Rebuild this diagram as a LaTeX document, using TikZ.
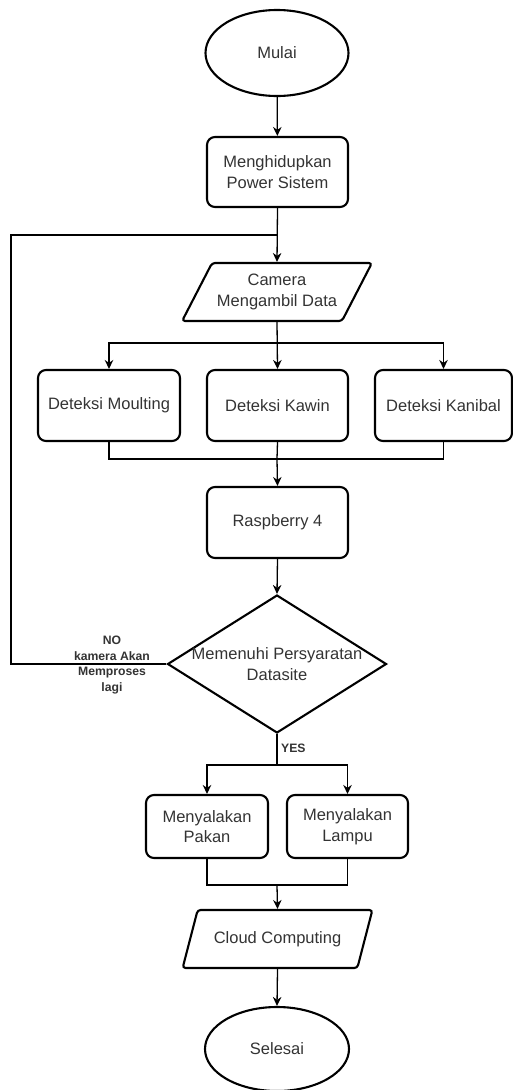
\documentclass[tikz,border=0pt]{standalone}
\usepackage{fontspec}
\setmainfont{Liberation Sans}
\usetikzlibrary{shapes.geometric,arrows.meta,calc}
\definecolor{txt}{HTML}{333333}
\tikzset{
  base/.style={draw=black, line width=2.1pt, text=txt, align=center, inner sep=0pt,
    font=\fontsize{16.5}{20.5}\selectfont},
  proc/.style={base, rectangle, rounded corners=8pt},
  term/.style={base, ellipse, minimum width=143pt, minimum height=86pt},
  io/.style={base, trapezium, trapezium left angle=52, trapezium right angle=128,
    trapezium stretches=true, rounded corners=3pt, minimum width=190pt, minimum height=58pt},
  decision/.style={base, diamond, minimum width=219pt, minimum height=138pt},
  conn/.style={draw=black, line width=1.3pt},
  arr/.style={conn, -{Stealth[length=9pt,width=8.5pt]}},
  lbl/.style={text=txt, align=center, inner sep=0pt, font=\bfseries\fontsize{12.2}{15.5}\selectfont}
}
\begin{document}
\begin{tikzpicture}[x=1pt,y=-1pt]
\useasboundingbox (0,0) rectangle (513,1090);
\node[term] (start) at (277,53) {Mulai};
\node[proc, minimum width=141pt, minimum height=70pt] (power) at (277.5,172) {Menghidupkan\\Power Sistem};
\node[io] (cam) at (277,292) {Camera\\Mengambil Data};
\node[proc, minimum width=142pt, minimum height=71pt] (moult) at (109,405.5) {Deteksi Moulting};
\node[proc, minimum width=141pt, minimum height=71pt] (kawin) at (277.5,405.5) {Deteksi Kawin};
\node[proc, minimum width=137pt, minimum height=71pt] (kanib) at (443.5,405.5) {Deteksi Kanibal};
\node[proc, minimum width=141pt, minimum height=71pt] (rasp) at (277.5,522.5) {Raspberry 4};
\node[decision] (dec) at (277,664) {};
\node[text=txt, align=center, inner sep=0pt, font=\fontsize{16.5}{20.5}\selectfont] (dect) at (277,664) {Memenuhi Persyaratan\\Datasite};
\node[proc, minimum width=122pt, minimum height=63pt] (pakan) at (207,826.5) {Menyalakan\\Pakan};
\node[proc, minimum width=121pt, minimum height=63pt] (lampu) at (347.5,826.5) {Menyalakan\\Lampu};
\node[io] (cloud) at (277.5,939) {Cloud Computing};
\node[term, minimum width=144pt, minimum height=84pt] (end) at (277,1049) {Selesai};

\coordinate (j1) at (277,235);
\coordinate (loopTop) at (11,235);
\coordinate (loopBot) at (11,664);
\coordinate (b1) at (277,343);
\coordinate (m1) at (277,459);
\coordinate (b2) at (277,765);
\coordinate (m2) at (277,885);

\draw[arr] (start) -- (power);
\draw[arr] (power.south) -- (cam.north);
\draw[arr] (cam.south) -- (kawin.north);
\draw[arr] (b1) -| (moult.north);
\draw[arr] (b1) -| (kanib.north);
\draw[conn] (moult.south) |- (m1) -| (kanib.south);
\draw[conn] (kawin.south) -- (m1);
\draw[arr] (m1) -- (rasp.north);
\draw[arr] (rasp.south) -- (dec.north);
\draw[conn] (dec.west) -- (loopBot) -- (loopTop) -- (j1);
\node[lbl] (nolbl) at (112,665) {NO\\kamera Akan\\Memproses\\lagi};
\draw[conn] (dec.south) -- (b2);
\node[lbl, anchor=west] (yeslbl) at (281,748) {YES};
\draw[arr] (b2) -| (pakan.north);
\draw[arr] (b2) -| (lampu.north);
\draw[conn] (pakan.south) |- (m2) -| (lampu.south);
\draw[arr] (m2) -- (cloud.north);
\draw[arr] (cloud.south) -- (end.north);
\end{tikzpicture}
\end{document}
